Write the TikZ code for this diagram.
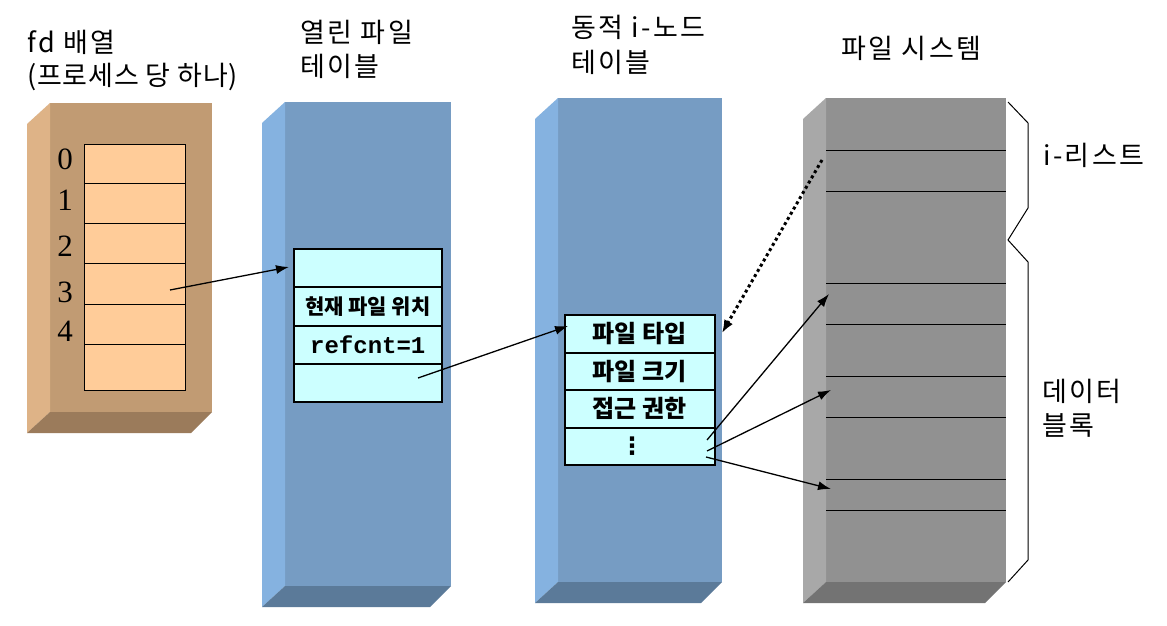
\documentclass[tikz,border=0pt]{standalone}
\usepackage{fontspec}
\newfontfamily\kr{Noto Sans CJK KR}
\newfontfamily\krw{Noto Sans CJK KR}[LetterSpace=9]
\newfontfamily\krn{Noto Sans CJK KR}[LetterSpace=3]
\newfontfamily\monof{Liberation Mono}
\newfontfamily\serf{Liberation Serif}
\newfontfamily\dvf{DejaVu Sans}
\usetikzlibrary{arrows.meta}
\definecolor{brF}{HTML}{C19B73}
\definecolor{brL}{HTML}{DEB387}
\definecolor{brB}{HTML}{9B7B5B}
\definecolor{blF}{HTML}{769CC3}
\definecolor{blL}{HTML}{85B2E0}
\definecolor{blB}{HTML}{5B7A99}
\definecolor{grF}{HTML}{919191}
\definecolor{grL}{HTML}{A8A8A8}
\definecolor{grB}{HTML}{737373}
\definecolor{peach}{HTML}{FFCC99}
\definecolor{cyanc}{HTML}{CCFFFF}
\newcommand{\cuboid}[5]{%
  \fill[#5F] (#1,#3) rectangle (#2,#4);
  \fill[#5L] (#1-23,#3+21) -- (#1,#3) -- (#1,#4) -- (#1-23,#4+21) -- cycle;
  \fill[#5B] (#1-23,#4+21) -- (#1,#4) -- (#2,#4) -- (#2-21,#4+21) -- cycle;
}
\begin{document}
\begin{tikzpicture}[x=1pt,y=-1pt,
  title/.style={anchor=west,inner sep=0pt,font=\krw\fontsize{27}{30}\selectfont},
  fdcell/.style={draw,line width=1pt,fill=peach,minimum width=101pt,anchor=north west,inner sep=0pt},
  ofcell/.style={draw,line width=1.6pt,fill=cyanc,minimum width=148pt,anchor=north west,inner sep=0pt,font=\kr\bfseries\fontsize{21}{24}\selectfont},
  incell/.style={draw,line width=1.6pt,fill=cyanc,minimum width=150pt,anchor=north west,inner sep=0pt,font=\kr\bfseries\fontsize{24}{26}\selectfont},
  digit/.style={inner sep=0pt,font=\serf\fontsize{31}{34}\selectfont},
  arr/.style={-{Latex[length=13pt,width=9pt]},line width=1.3pt},
  dotarr/.style={-{Latex[length=13pt,width=10pt]},line width=3pt,dash pattern=on 3pt off 3pt},
  blockline/.style={line width=1pt}]
\useasboundingbox (0,0) rectangle (1167,626);
\fill[white] (0,0) rectangle (1167,626);

% boxes
\cuboid{50}{212}{103}{412}{br}
\cuboid{285}{451}{102}{586}{bl}
\cuboid{558}{722}{98}{582}{bl}
\cuboid{826}{1006}{98}{582}{gr}

% titles
\node[title] (t1a) at (27,42) {fd 배열};
\node[title,font=\krn\fontsize{27}{30}\selectfont] (t1b) at (27,77) {(프로세스 당 하나)};
\node[title] (t2a) at (300,32) {열린 파일};
\node[title] (t2b) at (300,66) {테이블};
\node[title] (t3a) at (571,27) {동적 i-노드};
\node[title] (t3b) at (571,62) {테이블};
\node[title] (t4) at (841,48) {파일 시스템};
\node[title] (il) at (1043,155) {i-리스트};
\node[title] (db1) at (1042,391) {데이터};
\node[title] (db2) at (1042,425) {블록};

% fd table
\node[fdcell,minimum height=39pt] (fd0) at (84,144) {};
\node[fdcell,minimum height=40pt] (fd1) at (84,183) {};
\node[fdcell,minimum height=40pt] (fd2) at (84,223) {};
\node[fdcell,minimum height=41pt] (fd3) at (84,263) {};
\node[fdcell,minimum height=40pt] (fd4) at (84,304) {};
\node[fdcell,minimum height=46pt] (fd5) at (84,344) {};
\node[digit] (d0) at (65,159) {0};
\node[digit] (d1) at (65,200) {1};
\node[digit] (d2) at (65,246) {2};
\node[digit] (d3) at (65,292) {3};
\node[digit] (d4) at (65,331) {4};

% open file table
\node[ofcell,minimum height=38pt] (of1) at (293,248) {};
\node[ofcell,minimum height=39pt] (of2) at (293,286) {현재 파일 위치};
\node[ofcell,minimum height=38pt,font=\monof\bfseries\fontsize{24}{26}\selectfont] (of3) at (293,325) {refcnt=1};
\node[ofcell,minimum height=38pt] (of4) at (293,363) {};

% inode table
\node[incell,minimum height=38pt] (in1) at (564,314) {파일 타입};
\node[incell,minimum height=37pt] (in2) at (564,352) {파일 크기};
\node[incell,minimum height=38pt] (in3) at (564,389) {접근 권한};
\node[incell,minimum height=37pt] (in4) at (564,427) {};
\node[inner sep=0pt,font=\dvf\bfseries\fontsize{24}{26}\selectfont] (dots) at (632,446) {⋮};

% file system blocks
\foreach \yy in {150,191,283,324,376,417,479,510}
  \draw[blockline] (826,\yy) -- (1006,\yy);

% brace
\draw[line width=1pt] (1008,102) -- (1028,123) -- (1028,208) -- (1008,240) -- (1028,262) -- (1028,560) -- (1008,582);

% connector end points
\coordinate (s1) at (170,290);
\coordinate (e1) at (289,267);
\coordinate (s2) at (418,378);
\coordinate (e2) at (568,326);
\coordinate (s3) at (822,160);
\coordinate (e3) at (722,333);
\coordinate (s4) at (707,440);
\coordinate (e4) at (829,294);
\coordinate (s5) at (707,451);
\coordinate (e5) at (831,390);
\coordinate (s6) at (706,457);
\coordinate (e6) at (831,489);

\draw[arr] (s1) -- (e1);
\draw[arr] (s2) -- (e2);
\draw[dotarr] (s3) -- (e3);
\draw[arr] (s4) -- (e4);
\draw[arr] (s5) -- (e5);
\draw[arr] (s6) -- (e6);
\end{tikzpicture}
\end{document}
